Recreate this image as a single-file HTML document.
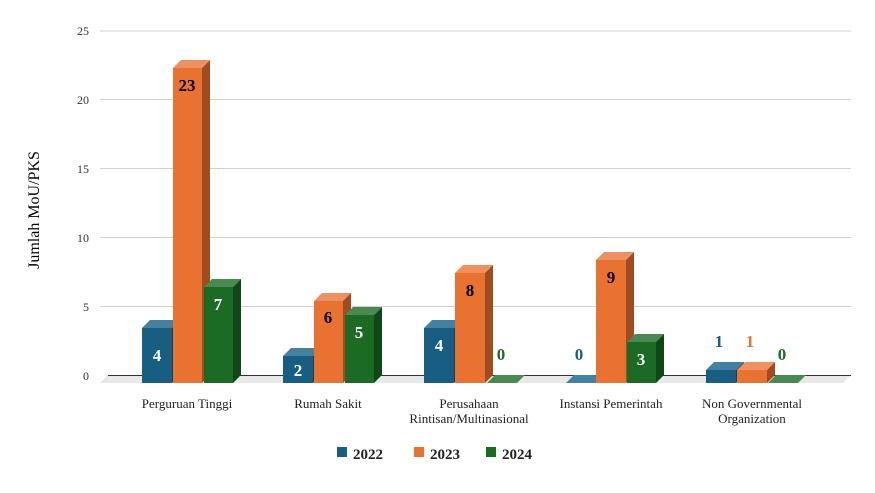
<!DOCTYPE html><html><head><style>body{margin:0;background:#fff}svg{font-family:"Liberation Serif",serif}</style></head><body>
<svg width="875" height="488" xmlns="http://www.w3.org/2000/svg">
<g stroke="#d0d0d0" stroke-width="1">
<line x1="100" y1="31" x2="851" y2="31"/><line x1="100" y1="99.5" x2="851" y2="99.5"/><line x1="100" y1="168.5" x2="851" y2="168.5"/><line x1="100" y1="237.5" x2="851" y2="237.5"/><line x1="100" y1="306.5" x2="851" y2="306.5"/></g>
<polygon points="108,375 851,375 843,383 100,383" fill="#e8e8e8"/>
<line x1="108" y1="375.5" x2="851" y2="375.5" stroke="#333"/>
<g font-size="12" fill="#333" text-anchor="end">
<text x="89" y="35">25</text><text x="89" y="104">20</text><text x="89" y="173">15</text><text x="89" y="242">10</text><text x="89" y="311">5</text><text x="89" y="380">0</text></g>
<text transform="translate(39,210) rotate(-90)" font-size="16" text-anchor="middle" fill="#000">Jumlah MoU/PKS</text>
<g>
<rect x="142" y="328" width="30" height="55" fill="#175e82"/><polygon points="142,328 150,320 180,320 172,328" fill="#44809f"/><polygon points="172,328 180,320 180,375 172,383" fill="#0f4461"/>
<rect x="173" y="68" width="29" height="315" fill="#e97231"/><polygon points="173,68 181,60 210,60 202,68" fill="#ee905f"/><polygon points="202,68 210,60 210,375 202,383" fill="#a04c20"/>
<rect x="204" y="287" width="29" height="96" fill="#1b6b25"/><polygon points="204,287 212,279 241,279 233,287" fill="#4a8a52"/><polygon points="233,287 241,279 241,375 233,383" fill="#114718"/>
<rect x="283" y="356" width="30" height="27" fill="#175e82"/><polygon points="283,356 291,348 321,348 313,356" fill="#44809f"/><polygon points="313,356 321,348 321,375 313,383" fill="#0f4461"/>
<rect x="314" y="301" width="29" height="82" fill="#e97231"/><polygon points="314,301 322,293 351,293 343,301" fill="#ee905f"/><polygon points="343,301 351,293 351,375 343,383" fill="#a04c20"/>
<rect x="345" y="315" width="29" height="68" fill="#1b6b25"/><polygon points="345,315 353,307 382,307 374,315" fill="#4a8a52"/><polygon points="374,315 382,307 382,375 374,383" fill="#114718"/>
<rect x="424" y="328" width="30" height="55" fill="#175e82"/><polygon points="424,328 432,320 462,320 454,328" fill="#44809f"/><polygon points="454,328 462,320 462,375 454,383" fill="#0f4461"/>
<rect x="455" y="273" width="30" height="110" fill="#e97231"/><polygon points="455,273 463,265 493,265 485,273" fill="#ee905f"/><polygon points="485,273 493,265 493,375 485,383" fill="#a04c20"/>
<polygon points="487,383 495,375 525,375 517,383" fill="#4a8a52"/>
<polygon points="566,383 574,375 604,375 596,383" fill="#44809f"/>
<rect x="596" y="260" width="30" height="123" fill="#e97231"/><polygon points="596,260 604,252 634,252 626,260" fill="#ee905f"/><polygon points="626,260 634,252 634,375 626,383" fill="#a04c20"/>
<rect x="627" y="342" width="29" height="41" fill="#1b6b25"/><polygon points="627,342 635,334 664,334 656,342" fill="#4a8a52"/><polygon points="656,342 664,334 664,375 656,383" fill="#114718"/>
<rect x="706" y="370" width="30" height="13" fill="#175e82"/><polygon points="706,370 714,362 744,362 736,370" fill="#44809f"/><polygon points="736,370 744,362 744,375 736,383" fill="#0f4461"/>
<rect x="737" y="370" width="30" height="13" fill="#e97231"/><polygon points="737,370 745,362 775,362 767,370" fill="#ee905f"/><polygon points="767,370 775,362 775,375 767,383" fill="#a04c20"/>
<polygon points="768,383 776,375 806,375 798,383" fill="#4a8a52"/>
</g>
<g font-size="17" text-anchor="middle" font-weight="bold">
<text x="157" y="361" fill="#fff">4</text><text x="187" y="91" fill="#000">23</text><text x="218" y="310" fill="#fff">7</text>
<text x="298" y="376" fill="#fff">2</text><text x="328" y="323" fill="#000">6</text><text x="359" y="338" fill="#fff">5</text>
<text x="439" y="351" fill="#fff">4</text><text x="470" y="296" fill="#000">8</text><text x="501" y="360" fill="#1b6b25">0</text>
<text x="579" y="360" fill="#175e82">0</text><text x="611" y="283" fill="#000">9</text><text x="641" y="365" fill="#fff">3</text>
<text x="719" y="347" fill="#175e82">1</text><text x="750" y="347" fill="#e97231">1</text><text x="782" y="360" fill="#1b6b25">0</text>
</g>
<g font-size="13" fill="#222" text-anchor="middle">
<text x="187" y="408">Perguruan Tinggi</text><text x="328" y="408">Rumah Sakit</text>
<text x="469" y="408">Perusahaan</text><text x="469" y="423">Rintisan/Multinasional</text>
<text x="611" y="408">Instansi Pemerintah</text>
<text x="752" y="408">Non Governmental</text><text x="752" y="423">Organization</text>
</g>
<g font-size="15" fill="#222" font-weight="bold">
<rect x="337" y="447" width="10" height="10" fill="#175e82"/><text x="353" y="459">2022</text>
<rect x="414" y="447" width="10" height="10" fill="#e97231"/><text x="430" y="459">2023</text>
<rect x="486" y="447" width="10" height="10" fill="#1b6b25"/><text x="502" y="459">2024</text>
</g>
</svg></body></html>
